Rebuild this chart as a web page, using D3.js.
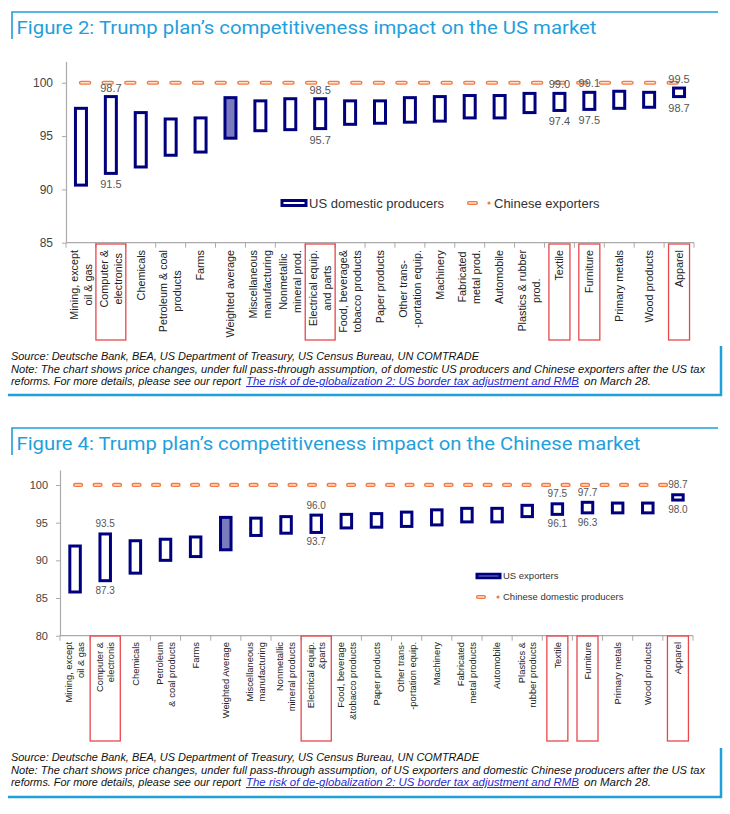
<!DOCTYPE html>
<html><head><meta charset="utf-8">
<script src="https://cdn.jsdelivr.net/npm/d3@7"></script>
<style>body{margin:0;background:#fff}svg{display:block}</style>
</head><body><svg id="c" width="730" height="814"></svg>
<script>
// ---------- DATA ----------
const fig2Categories = ["Mining, except\noil & gas","Computer &\nelectronics","Chemicals","Petroleum & coal\nproducts","Farms","Weighted average","Miscellaneous\nmanufacturing","Nonmetallic\nmineral prod.","Electrical equip.\nand parts","Food, beverage&\ntobacco products","Paper products","Other trans-\n-portation equip.","Machinery","Fabricated\nmetal prod.","Automobile","Plastics & rubber\nprod.","Textile","Furniture","Primary metals","Wood products","Apparel"];
const fig2UsLow  = [90.4,91.5,92.1,93.2,93.5,94.8,95.5,95.6,95.7,96.1,96.2,96.3,96.4,96.7,96.7,97.2,97.4,97.5,97.6,97.7,98.7];
const fig2UsHigh = [97.6,98.7,97.2,96.6,96.7,98.6,98.3,98.5,98.5,98.3,98.3,98.6,98.7,98.8,98.8,99.0,99.0,99.1,99.2,99.1,99.5];
const fig2Chinese = [100,100,100,100,100,100,100,100,100,100,100,100,100,100,100,100,100,100,100,100,100];
const fig2Highlight = ["Computer &\nelectronics","Electrical equip.\nand parts","Textile","Furniture","Apparel"];
const fig2YTicks = [85,90,95,100];

const fig4Categories = ["Mining, except\noil & gas","Computer &\nelectronis","Chemicals","Petroleum\n& coal products","Farms","Weighted Average","Miscellaneous\nmanufacturing","Nonmetallic\nmineral products","Electrical equip.\n&parts","Food, beverage\n&tobacco products","Paper products","Other trans-\n-portation equip.","Machinery","Fabricated\nmetal products","Automobile","Plastics &\nrubber products","Textile","Furniture","Primary metals","Wood products","Apparel"];
const fig4UsLow  = [85.8,87.3,88.3,90.0,90.5,91.4,93.3,93.6,93.7,94.3,94.4,94.5,94.7,95.1,95.1,95.8,96.1,96.3,96.3,96.3,98.0];
const fig4UsHigh = [91.9,93.5,92.6,92.8,93.1,95.7,95.6,95.8,96.0,96.1,96.2,96.4,96.7,96.9,96.9,97.3,97.5,97.7,97.6,97.6,98.7];
const fig4Chinese = [100,100,100,100,100,100,100,100,100,100,100,100,100,100,100,100,100,100,100,100,100];
const fig4Highlight = ["Computer &\nelectronis","Electrical equip.\n&parts","Textile","Furniture","Apparel"];
const fig4YTicks = [80,85,90,95,100];

const titles = ["Figure 2: Trump plan\u2019s competitiveness impact on the US market",
                "Figure 4: Trump plan\u2019s competitiveness impact on the Chinese market"];
const sourceLine = "Source: Deutsche Bank, BEA, US Department of Treasury, US Census Bureau, UN COMTRADE";
const noteLines = ["Note: The chart shows price changes, under full pass-through assumption, of domestic US producers and Chinese exporters after the US tax",
                   "Note: The chart shows price changes, under full pass-through assumption, of US exporters and domestic Chinese producers after the US tax"];
const reportPre = "reforms. For more details, please see our report";
const reportLink = "The risk of de-globalization 2: US border tax adjustment and RMB";
const reportPost = "on March 28.";
const legendNames = [["US domestic producers","Chinese exporters"],["US exporters","Chinese domestic producers"]];

// ---------- DRAW ----------
const svg = d3.select("#c");
const BLUE = "#1f9fdc", NAVY = "#00007f", ORANGE = "#f47a42", RED = "#e8474c";
const FONT = "'Liberation Sans', Arial, sans-serif";

function frame(top, bottom, title, titleW, src) {
  svg.append("path").attr("d", `M12,${top+27}V${top}H718`).attr("fill","none").attr("stroke",BLUE).attr("stroke-width",1.6);
  svg.append("path").attr("d", `M8,${bottom}H721V${bottom-49}`).attr("fill","none").attr("stroke",BLUE).attr("stroke-width",2.5);
  svg.append("text").attr("x",16.5).attr("y",top+22).attr("font-family","Roboto, 'Liberation Sans', sans-serif")
    .attr("font-size",18.5).attr("fill",BLUE).attr("textLength",titleW).attr("lengthAdjust","spacingAndGlyphs").text(title);
  const sf = "'Liberation Sans Narrow','Liberation Sans',Arial,sans-serif";
  const t = (x,y,w,txt,fill)=>svg.append("text").attr("x",x).attr("y",y).attr("font-family",sf).attr("font-style","italic")
     .attr("font-size",10.5).attr("fill",fill||"#111").attr("textLength",w).attr("lengthAdjust","spacingAndGlyphs").text(txt);
  t(11, src[0], 468, sourceLine);
  t(11, src[1], 694, src[3]);
  t(11, src[2], 230, reportPre);
  const lk = t(246, src[2], 333, reportLink, "#2a2ad0");
  lk.attr("text-decoration","underline");
  t(584, src[2], 67, reportPost);
}

function chart(cfg) {
  const g = svg.append("g");
  const x = d3.scaleBand().domain(cfg.cats).range([cfg.x0, cfg.x1]).padding(0);
  const y = d3.scaleLinear().domain(cfg.yDomain).range([cfg.yBase, cfg.yTopPx]);
  const cx = c => x(c) + x.bandwidth()/2;
  const ya = g.append("g").attr("transform",`translate(${cfg.x0},0)`)
    .call(d3.axisLeft(y).tickValues(cfg.yTicks).tickSize(4).tickSizeOuter(0).tickPadding(cfg.yPad).tickFormat(d3.format("d")));
  ya.select(".domain").attr("stroke","#aaa").attr("stroke-width",1.2);
  ya.selectAll(".tick line").attr("stroke","#aaa");
  ya.selectAll(".tick text").attr("font-family",FONT).attr("font-size",cfg.yFont).attr("fill","#444");
  g.append("line").attr("x1",cfg.x0).attr("x2",cfg.x1).attr("y1",y(cfg.yDomain[0])).attr("y2",y(cfg.yDomain[0]))
    .attr("stroke","#aaa").attr("stroke-width",1.2);
  const bounds = cfg.cats.map(c=>x(c)).concat([cfg.x1]);
  g.selectAll(".xt").data(bounds).join("line").attr("x1",d=>d).attr("x2",d=>d)
    .attr("y1",y(cfg.yDomain[0])).attr("y2",y(cfg.yDomain[0])+5).attr("stroke","#aaa");
  cfg.cats.forEach(c=>{
    const lines = c.split("\n");
    const lg = g.append("g").attr("transform",`translate(${cx(c)},${cfg.labelTop}) rotate(-90)`);
    const texts = lines.map((ln,i)=>lg.append("text").attr("font-family",FONT).attr("font-size",cfg.labelFont).attr("fill","#222")
        .attr("y",(i-(lines.length-1)/2)*cfg.labelLH).attr("dy","0.35em").text(ln));
    const maxW = d3.max(texts, t=>t.node().getComputedTextLength());
    texts.forEach(t=>{
      if (cfg.labelAlign==="center") t.attr("text-anchor","middle").attr("x",-maxW/2);
      else t.attr("text-anchor","end").attr("x",0);
    });
    if (cfg.highlight.includes(c)) {
      const w = lines.length>1 ? x.bandwidth() : 21;
      g.append("rect").attr("x",cx(c)-w/2).attr("y",cfg.boxY[0]).attr("width",w).attr("height",cfg.boxY[1]-cfg.boxY[0])
        .attr("fill","none").attr("stroke",RED).attr("stroke-width",1.3);
    }
  });
  const line = d3.line().x((d,i)=>cx(cfg.cats[i])).y(d=>y(d));
  g.append("path").attr("d",line(cfg.cn)).attr("fill","none").attr("stroke",ORANGE).attr("stroke-width",4.2)
    .attr("stroke-linecap","round").attr("stroke-dasharray",cfg.dash);
  g.append("path").attr("d",line(cfg.cn)).attr("fill","none").attr("stroke","#fde2d2").attr("stroke-width",1.4)
    .attr("stroke-linecap","round").attr("stroke-dasharray",cfg.dash);
  g.selectAll(".bar").data(cfg.cats).join("rect")
    .attr("x",c=>cx(c)-cfg.barW/2).attr("width",cfg.barW)
    .attr("y",(c,i)=>y(cfg.high[i])).attr("height",(c,i)=>y(cfg.low[i])-y(cfg.high[i]))
    .attr("fill",c=>/^Weighted/.test(c)?"#7a7abf":"#fff").attr("stroke",NAVY).attr("stroke-width",3);
  cfg.cats.forEach((c,i)=>{
    if (!cfg.highlight.includes(c)) return;
    g.append("text").attr("x",cx(c)).attr("y",y(cfg.high[i])+cfg.aboveOff).attr("text-anchor","middle")
      .attr("font-family",FONT).attr("font-size",cfg.valFont).attr("fill","#555").text(cfg.high[i].toFixed(1));
    g.append("text").attr("x",cx(c)).attr("y",y(cfg.low[i])+cfg.belowOff).attr("text-anchor","middle")
      .attr("font-family",FONT).attr("font-size",cfg.valFont).attr("fill","#555").text(cfg.low[i].toFixed(1));
  });
  const L = cfg.legend;
  g.append("rect").attr("x",L.boxX).attr("y",L.boxY-L.boxH/2).attr("width",L.boxW).attr("height",L.boxH)
    .attr("fill","#fff").attr("stroke",NAVY).attr("stroke-width",3);
  g.append("text").attr("x",L.textX).attr("y",L.boxY).attr("dy","0.35em").attr("font-family",FONT).attr("font-size",L.font)
    .attr("fill","#333").text(L.names[0]);
  g.append("line").attr("x1",L.dashX[0]).attr("x2",L.dashX[1]).attr("y1",L.lineY).attr("y2",L.lineY)
    .attr("stroke",ORANGE).attr("stroke-width",4.2).attr("stroke-linecap","round");
  g.append("line").attr("x1",L.dashX[0]).attr("x2",L.dashX[1]).attr("y1",L.lineY).attr("y2",L.lineY)
    .attr("stroke","#fde2d2").attr("stroke-width",1.4).attr("stroke-linecap","round");
  g.append("circle").attr("cx",L.dotX).attr("cy",L.lineY).attr("r",1.6).attr("fill",ORANGE);
  g.append("text").attr("x",L.text2X).attr("y",L.lineY).attr("dy","0.35em").attr("font-family",FONT).attr("font-size",L.font)
    .attr("fill","#333").text(L.names[1]);
}

frame(12, 395, titles[0], 580, [360, 372.5, 385, noteLines[0]]);
frame(428, 797, titles[1], 624, [761, 773.5, 786, noteLines[1]]);

chart({cats:fig2Categories, low:fig2UsLow, high:fig2UsHigh, cn:fig2Chinese, highlight:fig2Highlight,
  yDomain:[85,102], yTicks:fig2YTicks, yBase:242.7, yTopPx:61.4, x0:66, x1:694, yFont:12, yPad:9,
  labelTop:250, labelFont:10.8, labelLH:14, labelAlign:"center", boxY:[244,340],
  dash:"8.3,14.3", barW:11, valFont:11, aboveOff:-5, belowOff:15,
  legend:{boxX:282,boxY:203,boxW:24,boxH:5,textX:309,font:13,names:legendNames[0],
          lineY:203,dashX:[469,476],dotX:489,text2X:494}});

chart({cats:fig4Categories, low:fig4UsLow, high:fig4UsHigh, cn:fig4Chinese, highlight:fig4Highlight,
  yDomain:[80,102], yTicks:fig4YTicks, yBase:635.7, yTopPx:469.9, x0:60, x1:693, yFont:11, yPad:8,
  labelTop:642, labelFont:9.4, labelLH:12, labelAlign:"end", boxY:[636,741],
  dash:"6,13.5", barW:10.5, valFont:10, aboveOff:-6.5, belowOff:13,
  legend:{boxX:477,boxY:576,boxW:23,boxH:3.5,textX:503,font:9.5,names:legendNames[1],
          lineY:597,dashX:[478,484],dotX:498,text2X:503}});
</script></body></html>
